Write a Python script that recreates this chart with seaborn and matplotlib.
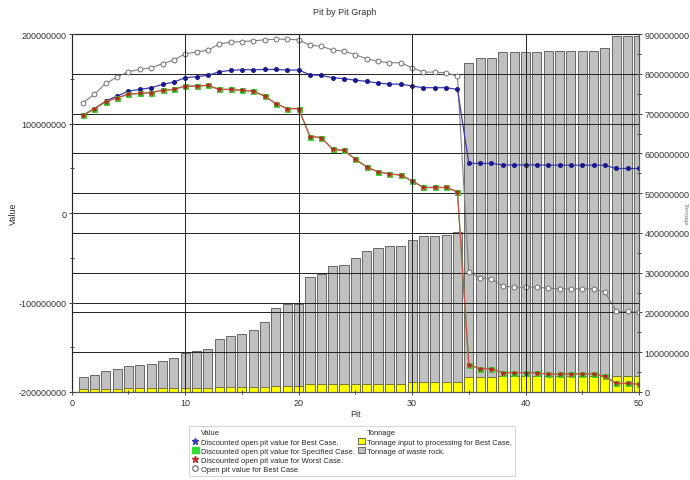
import seaborn as sns
import matplotlib.pyplot as plt
import numpy as np
from matplotlib.lines import Line2D
from matplotlib.patches import Patch
from matplotlib.ticker import MultipleLocator, FuncFormatter

pits = np.arange(1, 51)

# values in millions
open_pit = [123.4, 132.7, 145, 152, 158, 160.5, 162.4, 167, 171, 178,
            180, 182, 189, 191, 191.7, 192.5, 193.6, 194.3, 194.3, 193.6,
            187.3, 186.6, 182, 181, 177, 172.4, 169.5, 168, 168, 162.4,
            157.5, 157.5, 156.8, 153, -66.1, -72.5, -73.6, -81.7, -82.9, -82.9,
            -82.9, -84, -84.7, -84.7, -84.7, -84.7, -88.4, -110, -110, -110.7]
best = [109.3, 116.7, 125.2, 130.8, 136.4, 138.2, 140.1, 143.8, 146.4, 151.3,
        152.4, 153.8, 158, 159.4, 160.2, 160.2, 160.5, 160.5, 159.8, 159.8,
        154.6, 153.8, 151.3, 150.2, 148.5, 147.2, 145.3, 144.1, 144.1, 141.9,
        140.1, 140.1, 140.1, 138.2, 55.7, 55.4, 55.4, 53.8, 53.8, 53.8,
        53.8, 53.5, 53.5, 53.5, 53.5, 53.5, 53.5, 49.8, 49.8, 49.8]
specified = [109.3, 116.7, 124.5, 129, 132.7, 133.8, 134.6, 137.1, 138.2, 141.9,
             141.9, 142.7, 138.2, 138.2, 137.1, 136.3, 130.8, 122.3, 116.7, 116.7,
             85.5, 84.4, 71.3, 70, 60.2, 51.6, 46, 43.8, 42.4, 36,
             28.6, 28.6, 28.6, 23.7, -169.5, -173.9, -173.9, -178.4, -178.4, -178.4,
             -178.6, -180.2, -180.2, -179.8, -179.8, -179.8, -182.4, -190.5, -190.5, -191.3]
worst = specified.copy()  # lies on top of the specified case

waste = [37, 43.5, 52.8, 58.6, 65.3, 67, 71, 78, 84.6, 98.8,
         102, 108, 134, 141.5, 146.5, 155, 176, 211, 222, 222,
         290, 296.5, 317, 319, 338, 353.5, 362.6, 367.6, 367.6, 382.7,
         392.7, 392.7, 395.2, 402.8, 828, 839, 839, 856, 856, 856,
         856, 858, 858, 858, 858, 858, 864, 895, 895, 895]
ore = [6.7, 6.7, 6.7, 6.7, 9.2, 9.2, 9.2, 9.2, 9.2, 9.9,
       9.9, 9.9, 11.7, 11.7, 11.7, 11.7, 11.7, 15.9, 15.9, 15.9,
       20, 20, 20, 20, 20, 20, 20, 20, 20, 24.3,
       24.3, 24.3, 24.3, 24.3, 37, 37, 37, 39.4, 39.4, 39.4,
       39.4, 39.4, 39.4, 39.4, 39.4, 39.4, 39.4, 41, 41, 41]

M = 1e6
sns.set_style("white", rc={"axes.axisbelow": False})
plt.rcParams['font.family'] = ['Liberation Sans', 'DejaVu Sans']

fig = plt.figure(figsize=(6.9, 4.81), dpi=100)
ax = fig.add_axes([0.104, 0.183, 0.822, 0.744])
ax2 = ax.twinx()
ax.set_zorder(ax2.get_zorder() + 1)
ax.patch.set_visible(False)

# bars on tonnage axis
sns.barplot(x=pits, y=np.array(waste) * M, native_scale=True, width=0.8, ax=ax2,
            color="#c0c0c0", edgecolor="#555555", linewidth=0.6, saturation=1)
sns.barplot(x=pits, y=np.array(ore) * M, native_scale=True, width=0.8, ax=ax2,
            color="#ffff00", edgecolor="#666633", linewidth=0.6, saturation=1)

# value lines
sns.lineplot(x=pits, y=np.array(open_pit) * M, ax=ax, color="#808080", lw=0.8,
             marker="o", markersize=3.5, markerfacecolor="white", markeredgecolor="#707070",
             markeredgewidth=0.7)
sns.lineplot(x=pits, y=np.array(best) * M, ax=ax, color="#3a3ab0", lw=0.9,
             marker="o", markersize=2.8, markerfacecolor="#1a1a8c", markeredgecolor="#1a1a8c")
sns.lineplot(x=pits, y=np.array(specified) * M, ax=ax, color="#33cc33", lw=0.9,
             marker="s", markersize=3.6, markerfacecolor="#44cc33", markeredgecolor="#44cc33")
sns.lineplot(x=pits, y=np.array(worst) * M, ax=ax, color="#d0504a", lw=0.9,
             marker="*", markersize=3.2, markerfacecolor="#b03020", markeredgecolor="#b03020")

plain = FuncFormatter(lambda v, p: f"{int(round(v))}")
ax.set_xlim(0, 50)
ax.set_ylim(-200 * M, 200 * M)
ax2.set_ylim(0, 900 * M)
ax.xaxis.set_major_locator(MultipleLocator(10))
ax.xaxis.set_minor_locator(MultipleLocator(5))
ax.yaxis.set_major_locator(MultipleLocator(100 * M))
ax.yaxis.set_minor_locator(MultipleLocator(50 * M))
ax2.yaxis.set_major_locator(MultipleLocator(100 * M))
ax2.yaxis.set_minor_locator(MultipleLocator(50 * M))
ax.yaxis.set_major_formatter(plain)
ax2.yaxis.set_major_formatter(plain)

for a in (ax, ax2):
    a.tick_params(which="both", direction="inout", labelsize=6.5, colors="#444444",
                  labelcolor="#333333", width=0.7, pad=1.5)
    a.tick_params(which="major", length=5)
    a.tick_params(which="minor", length=3)
    for s in a.spines.values():
        s.set_color("#555555")
        s.set_linewidth(0.8)
ax.tick_params(axis="x", which="both", bottom=True, top=False)
ax2.tick_params(axis="y", which="both", right=True)
ax.grid(True, which="major", color="#222222", lw=0.7)
ax2.grid(True, which="major", axis="y", color="#222222", lw=0.7)
ax2.set_xlabel("")
ax2.set_ylabel("")

ax.set_xlabel("Pit", fontsize=6.5, color="#333333", labelpad=2)
ax.set_ylabel("")
fig.text(0.02, 0.555, "Value", rotation=90, ha="center", va="center", fontsize=6.5, color="#333333")
fig.text(0.5, 0.975, "Pit by Pit Graph", ha="center", va="center", fontsize=6.5, color="#333333")
fig.text(0.994, 0.555, "Tonnage", rotation=270, ha="center", va="center", fontsize=4.2, color="#777777")

blank = Line2D([], [], linestyle="none")
handles = [blank,
           Line2D([], [], color="#3a3ab0", marker="*", linestyle="none", markersize=5),
           Patch(facecolor="#33dd33", edgecolor="#33dd33"),
           Line2D([], [], color="#c03030", marker="*", linestyle="none", markersize=5),
           Line2D([], [], color="#808080", marker="o", markerfacecolor="white", linestyle="none", markersize=4),
           blank,
           Patch(facecolor="#ffff00", edgecolor="#555555", linewidth=0.6),
           Patch(facecolor="#c0c0c0", edgecolor="#555555", linewidth=0.6),
           blank, blank]
labels = ["Value",
          "Discounted open pit value for Best Case.",
          "Discounted open pit value for Specified Case.",
          "Discounted open pit value for Worst Case.",
          "Open pit value for Best Case",
          "Tonnage",
          "Tonnage input to processing for Best Case.",
          "Tonnage of waste rock.",
          "", ""]
leg = fig.legend(handles, labels, ncol=2, loc="upper left", bbox_to_anchor=(0.274, 0.113),
                 fontsize=5.4, frameon=True, fancybox=False, handlelength=0.9, handleheight=0.9,
                 handletextpad=0.3, columnspacing=0.4, labelspacing=0.2, borderpad=0.4,
                 borderaxespad=0)
leg.get_frame().set_edgecolor("#cccccc")
leg.get_frame().set_linewidth(0.8)

fig.savefig("out.png", dpi=100)
